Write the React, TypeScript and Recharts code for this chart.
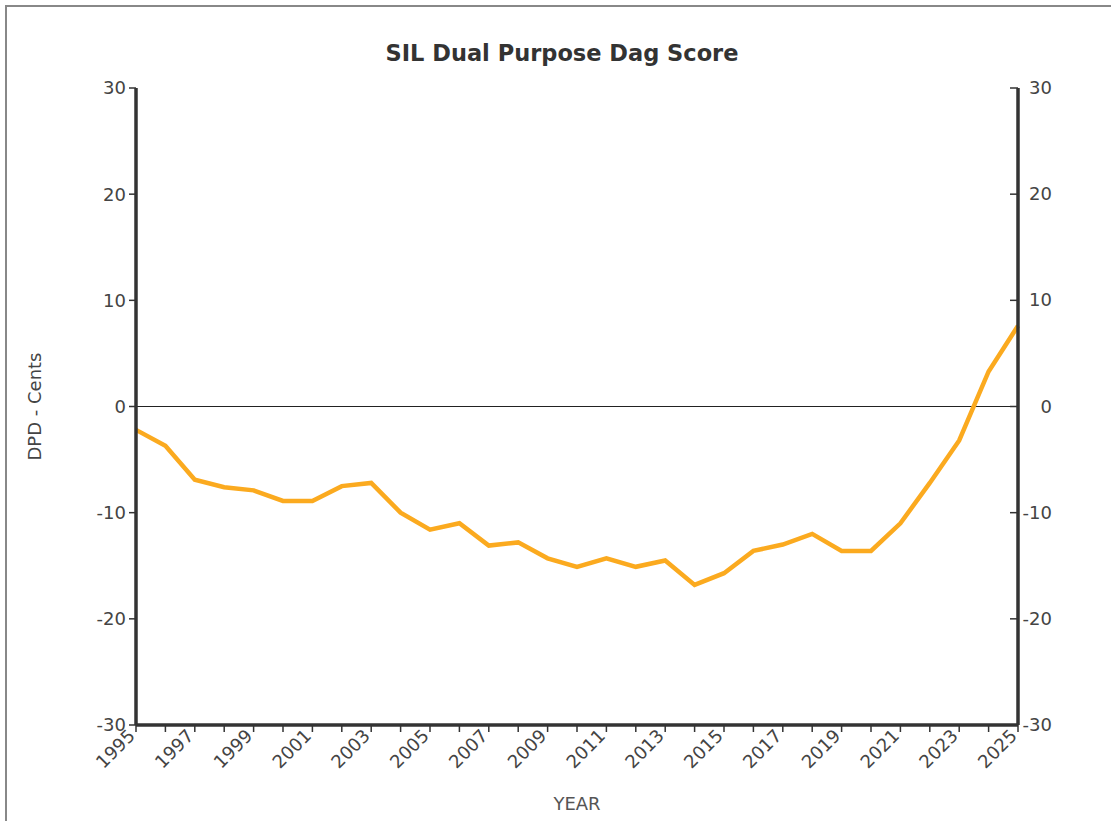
import React from 'react';
import { LineChart, Line, XAxis, YAxis, ReferenceLine } from 'recharts';

const years = [
  1995, 1996, 1997, 1998, 1999, 2000, 2001, 2002, 2003, 2004, 2005, 2006, 2007, 2008, 2009, 2010,
  2011, 2012, 2013, 2014, 2015, 2016, 2017, 2018, 2019, 2020, 2021, 2022, 2023, 2024, 2025,
];
const dpdScores = [
  -2.2, -3.7, -6.9, -7.6, -7.9, -8.9, -8.9, -7.5, -7.2, -10.0, -11.6, -11.0, -13.1, -12.8, -14.3, -15.1,
  -14.3, -15.1, -14.5, -16.8, -15.7, -13.6, -13.0, -12.0, -13.6, -13.6, -11.0, -7.2, -3.2, 3.3, 7.6,
];
const yTicks = [-30, -20, -10, 0, 10, 20, 30];

const data = years.map((year, i) => ({ year, score: dpdScores[i] }));

const FONT = '"DejaVu Sans", Arial, sans-serif';
const AXIS_COLOR = '#333';
const TEXT_COLOR = '#444';

const YearTick = (props: any) => {
  const { x, y, payload } = props;
  if (payload.value % 2 === 0) return null;
  const ty = y + 3;
  return (
    <text
      x={x}
      y={ty}
      transform={`rotate(-45, ${x}, ${ty})`}
      textAnchor="end"
      fill={TEXT_COLOR}
      fontSize={18}
      fontFamily={FONT}
    >
      {payload.value}
    </text>
  );
};

// right axis: tick marks point into the plot, labels sit outside (right-aligned)
const RightTick = (props: any) => {
  const { x, y, payload } = props;
  return (
    <g>
      <line x1={x - 8} y1={y} x2={x} y2={y} stroke={AXIS_COLOR} strokeWidth={1.5} />
      <text x={x + 34} y={y} dy={6} textAnchor="end" fill={TEXT_COLOR} fontSize={18} fontFamily={FONT}>
        {payload.value}
      </text>
    </g>
  );
};

const App: React.FC = () => {
  return (
    <div style={{ position: 'absolute', left: 0, top: 0, width: 1111, height: 821, background: '#fff' }}>
      <div
        style={{
          position: 'absolute',
          left: 5,
          top: 5,
          width: 1120,
          height: 830,
          border: '2px solid #888',
          boxSizing: 'border-box',
        }}
      />
      <div
        style={{
          position: 'absolute',
          left: 0,
          width: 1124,
          top: 40,
          textAlign: 'center',
          fontFamily: FONT,
          fontWeight: 'bold',
          fontSize: 22.5,
          color: '#333',
        }}
      >
        SIL Dual Purpose Dag Score
      </div>
      <div style={{ position: 'absolute', left: 0, top: 0 }}>
        <LineChart width={1111} height={821} data={data} margin={{ top: 88, right: 33, bottom: 36, left: 76 }}>
          <XAxis
            dataKey="year"
            type="number"
            domain={[1995, 2025]}
            ticks={years}
            interval={0}
            tick={<YearTick />}
            tickSize={7}
            tickLine={{ stroke: AXIS_COLOR, strokeWidth: 1.5 }}
            axisLine={{ stroke: AXIS_COLOR, strokeWidth: 3.5 }}
            height={60}
            label={{
              value: 'YEAR',
              position: 'insideBottom',
              offset: -25,
              fill: '#555',
              fontSize: 18,
              fontFamily: FONT,
            }}
          />
          <YAxis
            yAxisId="left"
            type="number"
            domain={[-30, 30]}
            ticks={yTicks}
            interval={0}
            width={60}
            tickSize={7}
            tickMargin={3}
            tickLine={{ stroke: AXIS_COLOR, strokeWidth: 1.5 }}
            axisLine={{ stroke: AXIS_COLOR, strokeWidth: 3.5 }}
            tick={{ fill: TEXT_COLOR, fontSize: 18, fontFamily: FONT }}
            label={{
              value: 'DPD - Cents',
              angle: -90,
              position: 'insideLeft',
              offset: -41,
              style: { textAnchor: 'middle' },
              fill: TEXT_COLOR,
              fontSize: 18,
              fontFamily: FONT,
            }}
          />
          <YAxis
            yAxisId="right"
            type="number"
            orientation="right"
            domain={[-30, 30]}
            allowDataOverflow
            ticks={yTicks}
            interval={0}
            width={60}
            tickSize={0}
            tickMargin={0}
            tickLine={false}
            axisLine={{ stroke: AXIS_COLOR, strokeWidth: 3.5 }}
            tick={<RightTick />}
          />
          <ReferenceLine yAxisId="left" y={0} stroke="#222" strokeWidth={1.2} />
          <Line
            yAxisId="left"
            type="linear"
            dataKey="score"
            stroke="#FBAA1F"
            strokeWidth={4.5}
            dot={false}
            isAnimationActive={false}
          />
        </LineChart>
      </div>
    </div>
  );
};

export default App;
